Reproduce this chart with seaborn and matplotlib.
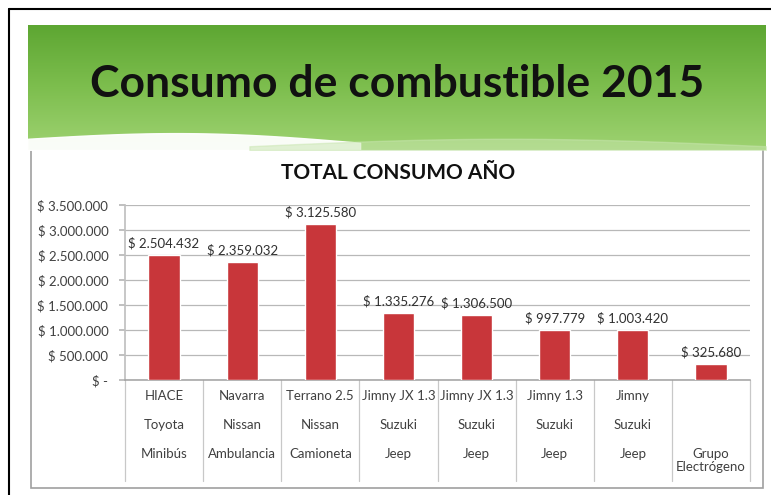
import numpy as np
import pandas as pd
import matplotlib
matplotlib.use("Agg")
import matplotlib.pyplot as plt
from matplotlib.patches import Rectangle
import seaborn as sns

# datos del gráfico
vehiculos = ["HIACE", "Navarra", "Terrano 2.5", "Jimny JX 1.3", "Jimny JX 1.3", "Jimny 1.3", "Jimny", ""]
marcas = ["Toyota", "Nissan", "Nissan", "Suzuki", "Suzuki", "Suzuki", "Suzuki", ""]
tipos = ["Minibús", "Ambulancia", "Camioneta", "Jeep", "Jeep", "Jeep", "Jeep", "Grupo\nElectrógeno"]
consumo = [2504432, 2359032, 3125580, 1335276, 1306500, 997779, 1003420, 325680]
y_ticks = [0, 500000, 1000000, 1500000, 2000000, 2500000, 3000000, 3500000]


def pesos(v):
    if v == 0:
        return "$ -"
    return "$ " + f"{v:,}".replace(",", ".")


df = pd.DataFrame({"cat": list(range(len(consumo))), "consumo": consumo})

sns.set_theme(style="white")
plt.rcParams["font.family"] = ["Lato", "DejaVu Sans"]

W, H = 771, 495
fig = plt.figure(figsize=(W / 100, H / 100), dpi=100)
fig.patch.set_facecolor("white")

# marco negro de la captura
fig.add_artist(plt.Line2D([9 / W, 9 / W], [0, 1 - 9 / H], color="black", lw=1.5))
fig.add_artist(plt.Line2D([9 / W, 1], [1 - 9 / H, 1 - 9 / H], color="black", lw=1.5))

# banner verde con degradado
bx0, bx1, by0, by1 = 28, 766, 25, 150
ban = fig.add_axes([bx0 / W, 1 - by1 / H, (bx1 - bx0) / W, (by1 - by0) / H])
grad = np.linspace(0, 1, 100).reshape(-1, 1)
cmap = matplotlib.colors.LinearSegmentedColormap.from_list("verde", ["#5DA632", "#7DBE4E", "#9ED271"])
ban.imshow(grad, aspect="auto", cmap=cmap, extent=[0, 1, 0, 1], origin="upper")
xs = np.linspace(0, 0.45, 100)
ban.fill_between(xs, 0, 0.09 + 0.06 * np.sin(np.pi * xs / 0.45) - 0.07 * xs, color="white", alpha=0.95)
xs2 = np.linspace(0.3, 1, 100)
ban.fill_between(xs2, 0, 0.03 + 0.06 * np.sin(np.pi * (xs2 - 0.3) / 0.7), color="#C9E6B0", alpha=0.5)
ban.set_xlim(0, 1)
ban.set_ylim(0, 1)
ban.axis("off")
ban.text(0.5, 0.53, "Consumo de combustible 2015", ha="center", va="center",
         fontsize=32, fontweight="bold", color="#111111")

# caja blanca del gráfico
fig.add_artist(Rectangle((31 / W, 1 - 488 / H), (763 - 31) / W, (488 - 146) / H,
                         facecolor="white", edgecolor="#A0A0A0", lw=1.2, zorder=-1))

ax = fig.add_axes([125 / W, 1 - 380 / H, (750 - 125) / W, (380 - 205) / H])
ax.patch.set_alpha(0)
sns.barplot(data=df, x="cat", y="consumo", color="#C8363A", width=0.4,
            saturation=1, ax=ax, zorder=3)
ax.set_ylim(0, 3500000)
ax.set_yticks(y_ticks)
ax.set_yticklabels([pesos(v) for v in y_ticks], fontsize=9.5, color="#404040")
ax.set_xlim(-0.5, len(consumo) - 0.5)
ax.set_xticks([])
ax.set_xlabel("")
ax.set_ylabel("")
ax.grid(axis="y", color="#B8B8B8", lw=0.9, zorder=0)
ax.tick_params(axis="y", length=4, color="#B8B8B8", left=True, pad=8)
for s in ["top", "right"]:
    ax.spines[s].set_visible(False)
ax.spines["left"].set_color("#C0C0C0")
ax.spines["bottom"].set_color("#A0A0A0")
ax.spines["bottom"].set_linewidth(1.1)

ax.bar_label(ax.containers[0], labels=[pesos(v) for v in consumo], padding=4,
             fontsize=9.5, color="#303030")

# separadores y etiquetas de categorías
tr = ax.get_xaxis_transform()
h_px = 380 - 205
for i in range(len(consumo) + 1):
    ax.plot([i - 0.5, i - 0.5], [0, -(481 - 380) / h_px], transform=tr,
            color="#C8C8C8", lw=0.9, clip_on=False)
for i in range(len(consumo)):
    for txt, ypix in [(vehiculos[i], 390), (marcas[i], 419), (tipos[i], 448)]:
        ax.text(i, -(ypix - 380) / h_px, txt, transform=tr, ha="center", va="top",
                fontsize=9.5, color="#404040", linespacing=1.15)

fig.text(398 / W, 1 - 173 / H, "TOTAL CONSUMO AÑO", ha="center", va="center",
         fontsize=15, fontweight="bold", color="#111111")

fig.savefig("out.png", dpi=100)
